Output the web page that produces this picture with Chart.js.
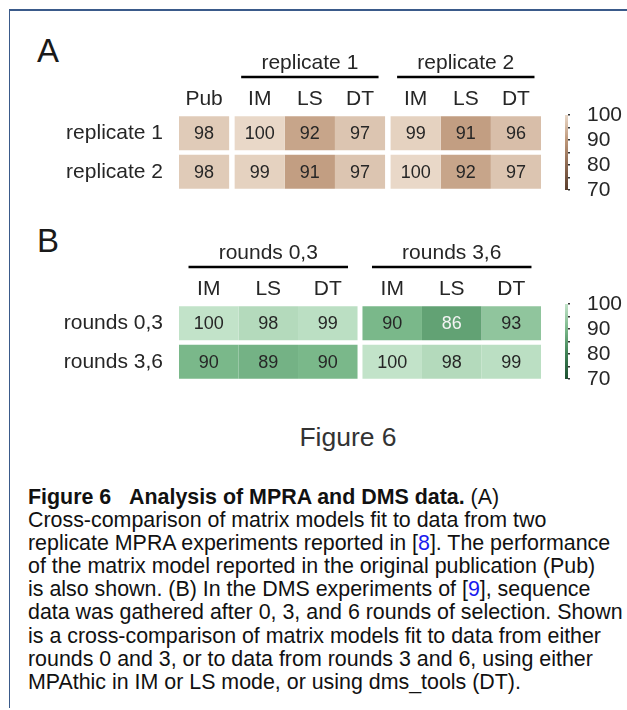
<!DOCTYPE html>
<html><head><meta charset="utf-8">
<script src="https://cdn.jsdelivr.net/npm/chart.js@4.4.0/dist/chart.umd.min.js"></script>
<style>
html,body{margin:0;padding:0;background:#fff;}
body{width:627px;height:710px;position:relative;overflow:hidden;font-family:"Liberation Sans",Arial,sans-serif;color:#222;}
.frame{position:absolute;left:9px;top:9px;width:700px;height:697px;border-top:2px solid #3a5a8a;border-left:1.5px solid #3a5a8a;}
.panel{position:absolute;font-size:33px;line-height:33px;color:#1a1a1a;}
canvas{position:absolute;}
.figtitle{position:absolute;left:0;width:696px;text-align:center;top:424px;font-size:26.5px;line-height:26.5px;color:#333;}
.caption{position:absolute;left:28px;top:486px;font-size:21.4px;line-height:23.1px;color:#111;white-space:nowrap;}
.caption b{font-weight:bold;}
.caption .ln{color:#1a1aee;}
</style></head>
<body>
<div class="frame"></div>
<div class="panel" style="left:37px;top:34px;">A</div>
<div class="panel" style="left:37px;top:224px;">B</div>
<canvas id="heatA" width="540" height="165" style="left:20px;top:40px;"></canvas>
<canvas id="barA" width="77" height="135" style="left:550px;top:85px;"></canvas>
<canvas id="heatB" width="540" height="165" style="left:20px;top:230px;"></canvas>
<canvas id="barB" width="77" height="135" style="left:550px;top:274px;"></canvas>
<div class="figtitle">Figure 6</div>
<div class="caption">
<div><b>Figure 6&nbsp;&nbsp;&nbsp;Analysis of MPRA and DMS data.</b> (A)</div>
<div>Cross-comparison of matrix models fit to data from two</div>
<div>replicate MPRA experiments reported in [<span class="ln">8</span>]. The performance</div>
<div>of the matrix model reported in the original publication (Pub)</div>
<div>is also shown. (B) In the DMS experiments of [<span class="ln">9</span>], sequence</div>
<div>data was gathered after 0, 3, and 6 rounds of selection. Shown</div>
<div>is a cross-comparison of matrix models fit to data from either</div>
<div>rounds 0 and 3, or to data from rounds 3 and 6, using either</div>
<div>MPAthic in IM or LS mode, or using dms_tools (DT).</div>
</div>
<script>
// ---- data ----
const panelAColumns = ['Pub','IM','LS','DT','IM','LS','DT'];
const panelAColumnGroups = [0,1,1,1,2,2,2];
const panelAGroupLabels = ['', 'replicate 1', 'replicate 2'];
const panelARows = ['replicate 1','replicate 2'];
const panelARow1 = [98,100,92,97,99,91,96];
const panelARow2 = [98,99,91,97,100,92,97];

const panelBColumns = ['IM','LS','DT','IM','LS','DT'];
const panelBColumnGroups = [0,0,0,1,1,1];
const panelBGroupLabels = ['rounds 0,3','rounds 3,6'];
const panelBRows = ['rounds 0,3','rounds 3,6'];
const panelBRow1 = [100,98,99,90,86,93];
const panelBRow2 = [90,89,90,100,98,99];

const colorbarMin = 70, colorbarMax = 100, colorbarStep = 5, colorbarLabelStep = 10;

// ---- styles ----
const brownStops = [[100,[233,216,200]],[90,[190,152,122]],[80,[140,104,80]],[70,[90,62,45]]];
const greenStops = [[100,[194,227,201]],[90,[122,184,138]],[80,[62,128,84]],[70,[28,80,48]]];
const FONT = '"Liberation Sans", Arial, sans-serif';
const TXT = '#262626';

function colorFor(stops, v){
  for(let i=0;i<stops.length-1;i++){
    const [a,ca]=stops[i],[b,cb]=stops[i+1];
    if(v<=a && v>=b){
      const t=(a-v)/(a-b);
      const c=ca.map((x,k)=>Math.round(x+(cb[k]-x)*t));
      return `rgb(${c[0]},${c[1]},${c[2]})`;
    }
  }
  const c = v>stops[0][0]?stops[0][1]:stops[stops.length-1][1];
  return `rgb(${c[0]},${c[1]},${c[2]})`;
}

function heatmap(id, cols, groups, groupLabels, rows, rowVals, stops, gap, inset, axisW, axisH, padR, padB){
  const ext=[]; let off=0;
  cols.forEach((c,i)=>{ if(i>0 && groups[i]!==groups[i-1]) off+=gap; ext.push([i+off,i+off+1]); });
  const maxX = ext[ext.length-1][1];
  const centers = ext.map(e=>(e[0]+e[1])/2);
  const datasets = cols.map((c,i)=>({
    label:c,
    data: rows.map((r,j)=>({x:ext[i], y:r, v:rowVals[j][i]})),
    backgroundColor: rows.map((r,j)=>colorFor(stops,rowVals[j][i])),
    borderWidth:0, borderSkipped:false,
    grouped:false, barPercentage:0.883, categoryPercentage:1
  }));
  const textPlugin = {
    id:'cells'+id,
    afterDatasetsDraw(chart){
      const ctx=chart.ctx; ctx.save();
      ctx.font='18px '+FONT; ctx.textAlign='center'; ctx.textBaseline='middle';
      chart.data.datasets.forEach((ds,di)=>{
        chart.getDatasetMeta(di).data.forEach((el,j)=>{
          const v=ds.data[j].v;
          ctx.fillStyle = v<88 ? '#f4f4f4' : TXT;
          ctx.fillText(String(v),(el.x+el.base)/2,el.y+1);
        });
      });
      const xs=chart.scales.x, top=chart.chartArea.top;
      const uniq=[...new Set(groups)];
      uniq.forEach(g=>{
        const lab=groupLabels[g]; if(!lab) return;
        const idx=groups.map((x,i)=>x===g?i:-1).filter(i=>i>=0);
        const x0=xs.getPixelForValue(ext[idx[0]][0]+inset), x1=xs.getPixelForValue(ext[idx[idx.length-1]][1]-inset);
        ctx.fillStyle=TXT; ctx.font='21px '+FONT;
        ctx.fillText(lab,(x0+x1)/2,top-51);
        ctx.strokeStyle='#000'; ctx.lineWidth=2.6;
        ctx.beginPath(); ctx.moveTo(x0,top-37); ctx.lineTo(x1,top-37); ctx.stroke();
      });
      ctx.restore();
    }
  };
  return new Chart(document.getElementById(id),{
    type:'bar',
    data:{labels:rows, datasets},
    plugins:[textPlugin],
    options:{
      indexAxis:'y', responsive:false, animation:false,
      layout:{padding:{left:0,top:0,right:padR,bottom:padB}},
      plugins:{legend:{display:false},tooltip:{enabled:false}},
      scales:{
        x:{type:'linear',position:'top',min:0,max:maxX,
           afterBuildTicks:s=>{s.ticks=centers.map(v=>({value:v}));},
           afterFit:s=>{s.height=axisH;},
           ticks:{callback:(v,i)=>cols[i],autoSkip:false,maxRotation:0,padding:2,color:TXT,font:{size:21,family:FONT}},
           grid:{display:false,drawTicks:false},border:{display:false}},
        y:{type:'category',labels:rows,
           afterFit:s=>{s.width=axisW;},
           ticks:{padding:0,color:TXT,font:{size:21,family:FONT}},
           grid:{display:false,drawTicks:true,tickLength:16},border:{display:false}}
      }
    }
  });
}

function colorbar(id, stops){
  return new Chart(document.getElementById(id),{
    type:'bar',
    data:{labels:['scale'],datasets:[{
      data:[[colorbarMin,colorbarMax]],
      backgroundColor:(c)=>{
        const a=c.chart.chartArea; if(!a) return '#ccc';
        const y=c.chart.scales.y;
        const g=c.chart.ctx.createLinearGradient(0,y.getPixelForValue(colorbarMax),0,y.getPixelForValue(colorbarMin));
        stops.forEach(([v,col])=>g.addColorStop((colorbarMax-v)/(colorbarMax-colorbarMin),`rgb(${col.join(',')})`));
        return g;
      },
      borderWidth:0,borderSkipped:false,barPercentage:1,categoryPercentage:1
    }]},
    options:{
      responsive:false,animation:false,
      layout:{padding:{left:15,top:30,right:0,bottom:30}},
      plugins:{legend:{display:false},tooltip:{enabled:false}},
      scales:{
        x:{display:false},
        y:{position:'right',min:colorbarMin,max:colorbarMax,
           afterFit:s=>{s.width=59;},
           ticks:{stepSize:colorbarStep,autoSkip:false,callback:v=>(v%colorbarLabelStep===0?String(v):''),padding:17,color:TXT,font:{size:21,family:FONT}},
           grid:{display:true,drawOnChartArea:false,drawTicks:true,tickLength:2,color:'#333',lineWidth:1.6},
           border:{display:false}}
      }
    }
  });
}

heatmap('heatA', panelAColumns, panelAColumnGroups, panelAGroupLabels, panelARows, [panelARow1,panelARow2], brownStops, 0.11, 0.13, 159, 74, 19, 14);
heatmap('heatB', panelBColumns, panelBColumnGroups, panelBGroupLabels, panelBRows, [panelBRow1,panelBRow2], greenStops, 0.083, 0.16, 159, 74, 19, 14);
colorbar('barA', brownStops);
colorbar('barB', greenStops);
</script>
</body></html>
